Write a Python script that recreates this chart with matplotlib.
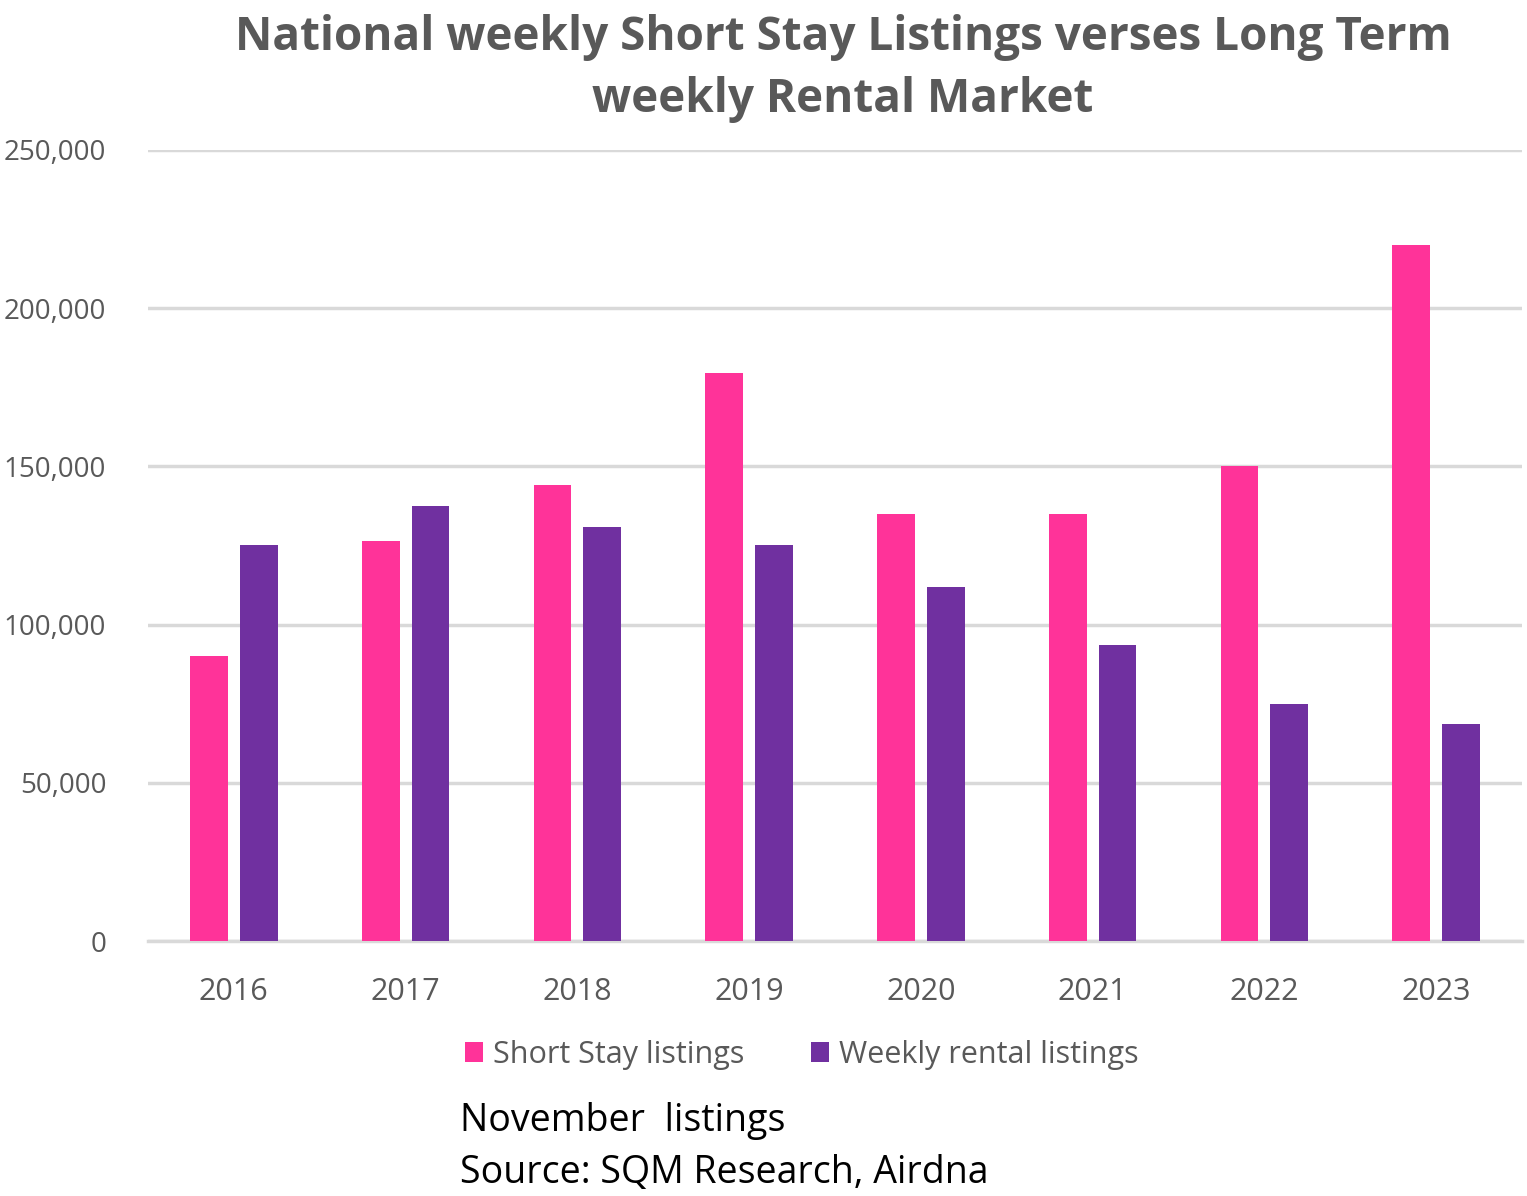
import matplotlib.pyplot as plt
import numpy as np

# November listings
years = ['2016', '2017', '2018', '2019', '2020', '2021', '2022', '2023']
short_stay = [90000, 126500, 144000, 179500, 135000, 135000, 150000, 220000]
weekly_rental = [125000, 137500, 131000, 125000, 112000, 93500, 75000, 68500]

pink = '#FF3399'
purple = '#7030A0'
grey = '#595959'

plt.rcParams['font.family'] = ['Open Sans', 'DejaVu Sans']

fig = plt.figure(figsize=(15.27, 11.96), dpi=100)
ax = fig.add_axes([0.0969, 0.2132, 0.8998, 0.6614])

x = np.arange(len(years))
w = 0.22
ax.bar(x - 0.145, short_stay, w, color=pink, label='Short Stay listings', zorder=3)
ax.bar(x + 0.145, weekly_rental, w, color=purple, label='Weekly rental listings', zorder=3)

ax.set_xlim(-0.5, len(years) - 0.5)
ax.set_ylim(0, 250000)
ax.set_yticks(range(0, 250001, 50000))
ax.set_yticklabels([f'{v:,}' for v in range(0, 250001, 50000)])
ax.set_xticks(x)
ax.set_xticklabels(years)
ax.tick_params(axis='x', length=0, labelsize=22, colors=grey, pad=26)
ax.tick_params(axis='y', length=0, labelsize=20, colors=grey, pad=30)
ax.grid(axis='y', color='#D9D9D9', linewidth=2.5, zorder=0)
for s in ['top', 'right', 'left']:
    ax.spines[s].set_visible(False)
ax.spines['bottom'].set_color('#D9D9D9')
ax.spines['bottom'].set_linewidth(2.5)

fig.text(0.552, 0.988, 'National weekly Short Stay Listings verses Long Term\nweekly Rental Market',
         ha='center', va='top', fontsize=33, fontweight='bold', color=grey, linespacing=1.42)

fig.legend(loc='center', bbox_to_anchor=(0.525, 0.118), ncol=2, frameon=False,
           fontsize=22, labelcolor=grey, handlelength=0.6, handleheight=0.6,
           handletextpad=0.3, columnspacing=2.2)

fig.text(0.301, 0.063, 'November  listings', fontsize=27, color='black', va='center')
fig.text(0.301, 0.019, 'Source: SQM Research, Airdna', fontsize=27, color='black', va='center')

fig.savefig('out.png', dpi=100)
